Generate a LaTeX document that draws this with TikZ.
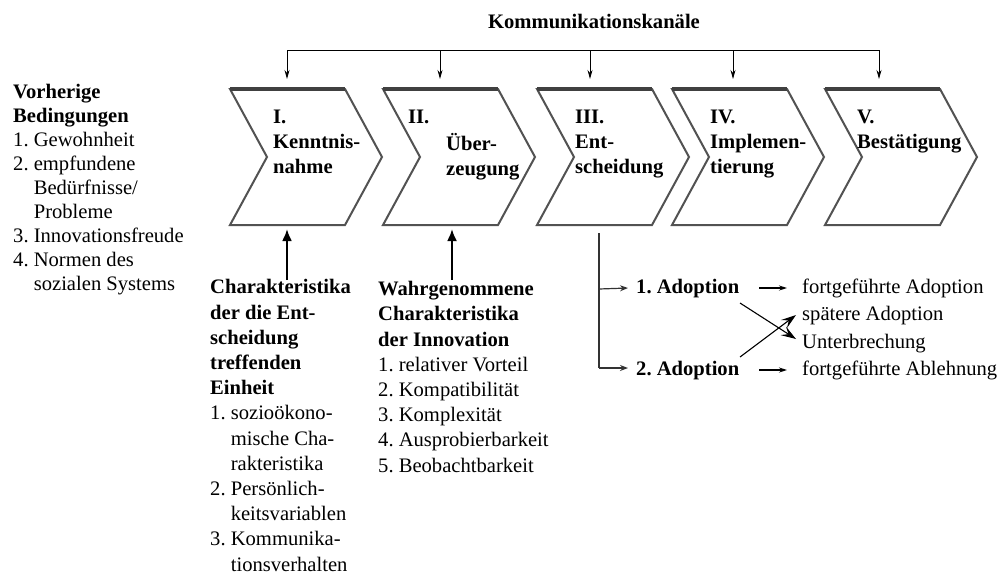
\documentclass[tikz,border=0pt]{standalone}
\usepackage{fontspec}
\setmainfont{Liberation Serif}
\usetikzlibrary{arrows.meta}
\frenchspacing

\begin{document}
\begin{tikzpicture}[x=1pt,y=-1pt,
  % multi-line nodes are placed by the baseline of their last line
  txt/.style={inner sep=0pt, anchor=base west, align=left, text=black,
              font=\fontsize{20.6}{25.2}\selectfont},
  stagetxt/.style={txt, font=\bfseries\fontsize{20.6}{25}\selectfont},
  chev/.style={draw=black!68, line width=2pt, line join=miter, fill=white},
  chevtop/.style={draw=black!75, line width=3.4pt},
  feed/.style={draw=black, line width=0.9pt, -{Stealth[length=9pt,width=5pt]}},
  influence/.style={draw=black, line width=2.2pt, -{Latex[length=12pt,width=10pt]}},
  branch/.style={draw=black!80, line width=1.2pt, -{Stealth[length=8pt,width=6pt]}},
  result/.style={draw=black, line width=1.1pt, -{Stealth[length=8pt,width=5pt]}},
  crossarrow/.style={draw=black, line width=1.1pt, -{Stealth[length=15pt,width=10pt,inset=6pt]}}
]
\useasboundingbox[fill=white] (0,0) rectangle (1000,574);

% the five stages as chevrons
\foreach \x in {230,383,537,672,825} {
  \draw[chev] (\x,89) -- (\x+115,89) -- (\x+152,157) -- (\x+115,225)
              -- (\x,225) -- (\x+37,157) -- cycle;
  \draw[chevtop] (\x,89) -- (\x+115,89);
}

% stage labels
\node[stagetxt] (s1) at (273,173) {I.\\Kenntnis-\\nahme};
\node[stagetxt] (s2n) at (408,123) {II.};
\node[stagetxt] (s2) at (446,175) {Über-\\zeugung};
\node[stagetxt] (s3) at (575,173) {III.\\Ent-\\scheidung};
\node[stagetxt] (s4) at (710,173) {IV.\\Implemen-\\tierung};
\node[stagetxt] (s5) at (857,148) {V.\\Bestätigung};

% communication channels feeding every stage
\node[txt, anchor=base, font=\bfseries\fontsize{20.6}{24}\selectfont] (kanal) at (594,28) {Kommunikationskanäle};
\foreach \x [count=\i] in {287,440,590,733,879} {
  \coordinate (bus\i) at (\x,50);
  \coordinate (top\i) at (\x,79);
}
\draw[line width=0.9pt] (bus1) -- (bus5);
\foreach \i in {1,...,5} \draw[feed] (bus\i) -- (top\i);

% prior conditions
\node[txt, font=\fontsize{20.6}{24}\selectfont] (prior) at (13,290)
  {\textbf{Vorherige}\\ \textbf{Bedingungen}\\ 1. Gewohnheit\\ 2. empfundene\\
   \hphantom{2. }Bedürfnisse/\\ \hphantom{2. }Probleme\\ 3. Innovationsfreude\\
   4. Normen des\\ \hphantom{4. }sozialen Systems};

% characteristics of the deciding unit
\node[txt] (unit) at (210,571)
  {\textbf{Charakteristika}\\ \textbf{der die Ent-}\\ \textbf{scheidung}\\
   \textbf{treffenden}\\ \textbf{Einheit}\\ 1. sozioökono-\\ \hphantom{1. }mische Cha-\\
   \hphantom{1. }rakteristika\\ 2. Persönlich-\\ \hphantom{2. }keitsvariablen\\
   3. Kommunika-\\ \hphantom{3. }tionsverhalten};

% perceived characteristics of the innovation
\node[txt] (innov) at (378,472)
  {\textbf{Wahrgenommene}\\ \textbf{Charakteristika}\\ \textbf{der Innovation}\\
   1. relativer Vorteil\\ 2. Kompatibilität\\ 3. Komplexität\\
   4. Ausprobierbarkeit\\ 5. Beobachtbarkeit};

\coordinate (bot1) at (287,229);
\coordinate (bot2) at (452,229);
\coordinate (from1) at (287,280);
\coordinate (from2) at (452,280);
\draw[influence] (from1) -- (bot1);
\draw[influence] (from2) -- (bot2);

% decision branches
\node[txt, font=\bfseries\fontsize{20.6}{24}\selectfont] (a1) at (636,293) {1. Adoption};
\node[txt, font=\bfseries\fontsize{20.6}{24}\selectfont] (a2) at (636,375) {2. Adoption};
\node[txt] (f1) at (802,293) {fortgeführte Adoption};
\node[txt] (late) at (802,320) {spätere Adoption};
\node[txt] (stop) at (802,348) {Unterbrechung};
\node[txt] (f2) at (802,375) {fortgeführte Ablehnung};

\coordinate (dec) at (599,233);
\coordinate (j1) at (599,289);
\coordinate (j2) at (599,368);
\draw[line width=1.2pt, draw=black!80] (dec) -- (j2);
\draw[branch] (j1) -- ([xshift=-8pt,yshift=5pt]a1.base west);
\draw[branch] (j2) -- ([xshift=-8pt,yshift=7pt]a2.base west);

\draw[result] ([xshift=20pt,yshift=5pt]a1.base east) -- ([xshift=-15pt,yshift=5pt]f1.base west);
\draw[result] ([xshift=20pt,yshift=5pt]a2.base east) -- ([xshift=-15pt,yshift=5pt]f2.base west);

% switching between adoption and rejection
\coordinate (x1) at (740,303);
\coordinate (x2) at (740,357);
\coordinate (tostop) at (796,339);
\coordinate (tolate) at (796,315);
\draw[crossarrow] (x1) -- (tostop);
\draw[crossarrow] (x2) -- (tolate);
\end{tikzpicture}
\end{document}
